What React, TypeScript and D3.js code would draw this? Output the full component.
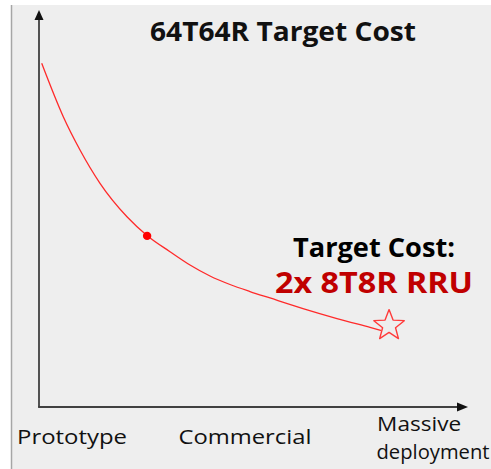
import React from "react";
import * as d3 from "d3";

const W = 491;
const H = 469;

// curve points (stage progress 0-100, relative cost 0-100)
const curveX = [0.63, 5.66, 9.56, 14.22, 20.51, 25.24, 30.54, 35.2, 39.86, 44.52, 49.18, 53.85, 61.54, 69.46, 77.16, 79.72];
const curveY = [86.57, 73.12, 64.74, 56.35, 47.93, 43.15, 39.12, 35.77, 33.0, 30.86, 29.09, 27.46, 24.81, 22.29, 20.03, 19.27];
const dotPoint = [25.2, 43.1];
const starPoint = [81.6, 20.5];

const stageLabels = ["Prototype", "Commercial", "Massive deployment"];
const stagePos = [7.7, 48.0, 88.6];

const title = "64T64R Target Cost";
const targetLine1 = "Target Cost:";
const targetLine2 = "2x 8T8R RRU";

const FONT = "'Open Sans', 'Noto Sans', sans-serif";

function starPath(cx: number, cy: number, R: number, r: number) {
  const pts: [number, number][] = [];
  for (let i = 0; i < 10; i++) {
    const a = -Math.PI / 2 + (i * Math.PI) / 5;
    const rad = i % 2 === 0 ? R : r;
    pts.push([cx + rad * Math.cos(a), cy + rad * Math.sin(a)]);
  }
  return "M" + pts.map((p) => p.join(",")).join("L") + "Z";
}

export default function App() {
  const x = d3.scaleLinear().domain([0, 100]).range([39, 468]);
  const y = d3.scaleLinear().domain([0, 100]).range([407, 10]);

  const line = d3
    .line<number>()
    .x((_, i) => x(curveX[i]))
    .y((d) => y(d))
    .curve(d3.curveMonotoneX);

  const axisColor = "#404040";
  const sx = x(starPoint[0]);
  const sy = y(starPoint[1]);

  return (
    <svg
      width={W}
      height={H}
      style={{ position: "absolute", left: 0, top: 0, background: "#ffffff" }}
    >
      <rect x={12} y={5} width={W - 12} height={H - 5} fill="#eeeeee" />
      <line x1={11.5} y1={5} x2={11.5} y2={H} stroke="#a6a6a6" strokeWidth={1.5} />

      {/* axes */}
      <line x1={x(0)} y1={y(0)} x2={x(0)} y2={y(100) + 8} stroke={axisColor} strokeWidth={1.8} />
      <path
        d={`M${x(0)},${y(100)} L${x(0) - 4.5},${y(100) + 10} L${x(0) + 4.5},${y(100) + 10} Z`}
        fill="#111"
      />
      <line x1={x(0) - 0.9} y1={y(0)} x2={x(100) - 8} y2={y(0)} stroke={axisColor} strokeWidth={1.8} />
      <path
        d={`M${x(100)},${y(0)} L${x(100) - 11},${y(0) - 4.5} L${x(100) - 11},${y(0) + 4.5} Z`}
        fill="#111"
      />

      {/* curve */}
      <path d={line(curveY) || ""} fill="none" stroke="#ff2a2a" strokeWidth={1.3} />
      <circle cx={x(dotPoint[0])} cy={y(dotPoint[1])} r={4.2} fill="#ff0000" />
      <path
        d={starPath(sx, sy, 16, 6.8)}
        fill="#eeeeee"
        stroke="#ff3b3b"
        strokeWidth={1.4}
        strokeLinejoin="round"
      />

      {/* title */}
      <text
        x={283}
        y={41}
        textAnchor="middle"
        fontFamily={FONT}
        fontWeight="bold"
        fontSize={26}
        fill="#111"
        textLength={266}
        lengthAdjust="spacingAndGlyphs"
      >
        {title}
      </text>

      {/* annotation */}
      <text
        x={374}
        y={257}
        textAnchor="middle"
        fontFamily={FONT}
        fontWeight="bold"
        fontSize={26}
        fill="#000"
        textLength={162}
        lengthAdjust="spacingAndGlyphs"
      >
        {targetLine1}
      </text>
      <text
        x={374}
        y={292.5}
        textAnchor="middle"
        fontFamily={FONT}
        fontWeight="bold"
        fontSize={29}
        fill="#c00000"
        textLength={198}
        lengthAdjust="spacingAndGlyphs"
      >
        {targetLine2}
      </text>

      {/* stage labels */}
      <text x={x(stagePos[0])} y={444} textAnchor="middle" fontFamily={FONT} fontSize={20.5} fill="#111" textLength={110} lengthAdjust="spacingAndGlyphs">
        {stageLabels[0]}
      </text>
      <text x={x(stagePos[1])} y={444} textAnchor="middle" fontFamily={FONT} fontSize={20.5} fill="#111" textLength={133} lengthAdjust="spacingAndGlyphs">
        {stageLabels[1]}
      </text>
      <text x={x(stagePos[2])} y={431} textAnchor="middle" fontFamily={FONT} fontSize={20.5} fill="#111" textLength={84} lengthAdjust="spacingAndGlyphs">
        {stageLabels[2].split(" ")[0]}
      </text>
      <text x={433} y={459} textAnchor="middle" fontFamily={FONT} fontSize={20.5} fill="#111" textLength={113} lengthAdjust="spacingAndGlyphs">
        {stageLabels[2].split(" ")[1]}
      </text>
    </svg>
  );
}
